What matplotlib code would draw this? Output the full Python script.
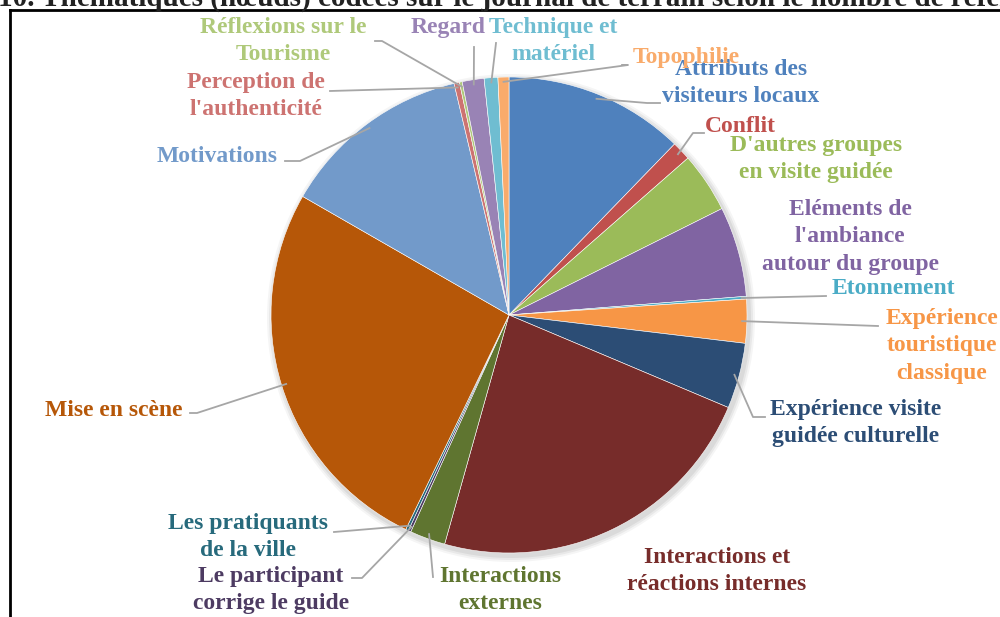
import numpy as np
import matplotlib.pyplot as plt

# number of coded references per theme (clockwise from 12 o'clock)
themes = [
    "Attributs des\nvisiteurs locaux", "Conflit", "D'autres groupes\nen visite guidée",
    "Eléments de\nl'ambiance\nautour du groupe", "Etonnement",
    "Expérience\ntouristique\nclassique", "Expérience visite\nguidée culturelle",
    "Interactions et\nréactions internes", "Interactions\nexternes",
    "Le participant\ncorrige le guide", "Les pratiquants\nde la ville", "Mise en scène",
    "Motivations", "Perception de\nl'authenticité", "Réflexions sur le\nTourisme",
    "Regard", "Technique et\nmatériel", "Topophilie",
]
counts = [66, 7, 22, 33, 1, 16, 24, 124, 13, 1, 1, 141, 70, 2, 1, 8, 5, 4]

colors = ["#4F81BD", "#C0504D", "#9BBB59", "#8064A2", "#4BACC6", "#F79646",
          "#2C4D75", "#772C2A", "#5F7530", "#4D3B62", "#276A7C", "#B65708",
          "#729ACA", "#CD7371", "#AFC97A", "#9983B5", "#6FBDD1", "#F9AB6B"]

W, H = 1000, 617
CX, CY, R = 509, 315, 238

# label layout in pixel coords: text centre, then leader path (label side); None = no leader
layout = [
    ((741, 83), [(647, 103), (660, 103)]),
    ((740, 126), [(693, 133), (704, 133)]),
    ((816, 159), None),
    ((850, 237), None),
    ((893, 289), [(826, 296)]),
    ((942, 346), [(878, 326)]),
    ((856, 423), [(753, 417), (765, 417)]),
    ((717, 571), None),
    ((500, 590), [(433, 577)]),
    ((271, 590), [(362, 578), (352, 578)]),
    ((248, 537), [(334, 532)]),
    ((114, 410), [(197, 413), (190, 413)]),
    ((217, 156), [(300, 161), (285, 161)]),
    ((256, 96), [(330, 91)]),
    ((283, 41), [(382, 41), (375, 41)]),
    ((448, 28), [(474, 47)]),
    ((553, 41), [(496, 43)]),
    ((686, 58), [(628, 65), (622, 65)]),
]

plt.rcParams['font.family'] = ['Liberation Serif', 'DejaVu Serif']

fig = plt.figure(figsize=(W / 100, H / 100), dpi=100)
ax = fig.add_axes([0, 0, 1, 1])

# soft shadow under the pie
for k, a in [(6, 0.04), (4, 0.05), (2, 0.06)]:
    ax.add_patch(plt.Circle((CX + 2, H - CY - 3), R + k, color='#000000', alpha=a, lw=0))

wedges, _ = ax.pie(counts, colors=colors, startangle=90, counterclock=False,
                   center=(CX, H - CY), radius=R, frame=True,
                   wedgeprops=dict(edgecolor='white', linewidth=0.4))

ax.set_xlim(0, W)
ax.set_ylim(0, H)
ax.set_aspect('equal')
ax.axis('off')

total = sum(counts)
start = 0.0
for i, (name, c) in enumerate(zip(themes, counts)):
    mid = start + 360.0 * c / total / 2
    start += 360.0 * c / total
    (tx, ty), path = layout[i]
    if path is not None:
        a = np.deg2rad(mid)
        px = [CX + R * 0.98 * np.sin(a)] + [p[0] for p in path]
        py = [CY - R * 0.98 * np.cos(a)] + [p[1] for p in path]
        ax.plot(px, [H - y for y in py], color='#A6A6A6', lw=1.3, zorder=3)
    ax.text(tx, H - ty, name, color=colors[i], fontsize=17, fontweight='bold',
            ha='center', va='center', multialignment='center', linespacing=1.4, zorder=4)

# page title (cropped) and frame of the figure
fig.text(-0.002, 1 - 6 / H, "10. Thématiques (nœuds) codées sur le journal de terrain selon le nombre de références",
         fontsize=21, fontweight='bold', color='#222222', ha='left', va='baseline')
fig.add_artist(plt.Line2D([10 / W, 1], [1 - 10 / H] * 2, color='black', lw=2))
fig.add_artist(plt.Line2D([10 / W] * 2, [0, 1 - 10 / H], color='black', lw=2))

fig.savefig('out.png', dpi=100)
